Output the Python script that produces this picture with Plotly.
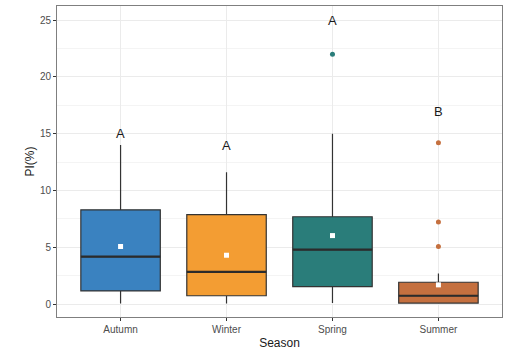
import plotly.graph_objects as go

seasons = ["Autumn", "Winter", "Spring", "Summer"]
colors = ["#3A82C0", "#F39D33", "#2A7D7A", "#C5703F"]
q1 = [1.16, 0.73, 1.54, 0.09]
median = [4.17, 2.83, 4.80, 0.73]
q3 = [8.30, 7.87, 7.69, 1.92]
lower = [0.05, 0.05, 0.09, 0.05]
upper = [14.0, 11.6, 15.0, 2.7]
means = [5.07, 4.30, 6.03, 1.69]
outliers = [[], [], [22.0], [14.2, 7.23, 5.07]]
letters = ["A", "A", "A", "B"]
letter_y = [15.0, 14.0, 25.0, 17.0]

BOX_W = 0.75
xs = list(range(len(seasons)))

fig = go.Figure()
for i, s in enumerate(seasons):
    fig.add_trace(go.Box(
        x=[xs[i]], q1=[q1[i]], median=[median[i]], q3=[q3[i]],
        lowerfence=[lower[i]], upperfence=[upper[i]],
        width=BOX_W, fillcolor=colors[i],
        line=dict(color="#333333", width=1.2),
        whiskerwidth=0, boxpoints=False, showlegend=False, hoverinfo="skip"))
    # thicker median line
    fig.add_trace(go.Scatter(
        x=[xs[i] - BOX_W / 2, xs[i] + BOX_W / 2], y=[median[i], median[i]],
        mode="lines", line=dict(color="#2b2b2b", width=2.2),
        showlegend=False, hoverinfo="skip"))
    if outliers[i]:
        fig.add_trace(go.Scatter(
            x=[xs[i]] * len(outliers[i]), y=outliers[i], mode="markers",
            marker=dict(color=colors[i], size=5),
            showlegend=False, hoverinfo="skip"))
    fig.add_trace(go.Scatter(
        x=[xs[i]], y=[means[i]], mode="markers",
        marker=dict(color="white", size=5, symbol="square"),
        showlegend=False, hoverinfo="skip"))
    fig.add_annotation(x=xs[i], y=letter_y[i], text=letters[i], showarrow=False,
                       font=dict(size=13, color="#1a1a1a"), yanchor="middle")

fig.update_layout(
    width=528, height=352,
    margin=dict(l=57, r=26, t=5, b=34),
    paper_bgcolor="white", plot_bgcolor="white",
    font=dict(family="Liberation Sans, Arial, sans-serif", color="#4d4d4d", size=10),
)
fig.update_xaxes(
    range=[-0.6, 3.6], tickvals=xs, ticktext=seasons,
    showgrid=True, gridcolor="#ebebeb", gridwidth=1,
    ticks="outside", ticklen=3, tickcolor="#333333",
    showline=True, linecolor="#7f7f7f", mirror=True, zeroline=False,
    tickfont=dict(size=10, color="#4d4d4d"),
    title=dict(text="Season", font=dict(size=12, color="#1a1a1a"), standoff=4),
)
fig.update_yaxes(
    range=[-1.14, 26.25], tickvals=[0, 5, 10, 15, 20, 25],
    showgrid=True, gridcolor="#ebebeb", gridwidth=1,
    minor=dict(tickvals=[2.5, 7.5, 12.5, 17.5, 22.5], showgrid=True, gridcolor="#f4f4f4", gridwidth=0.8),
    ticks="outside", ticklen=3, tickcolor="#333333",
    showline=True, linecolor="#7f7f7f", mirror=True, zeroline=False,
    tickfont=dict(size=10, color="#4d4d4d"),
    title=dict(text="PI(%)", font=dict(size=12, color="#1a1a1a"), standoff=2),
)
fig.write_html("out.html", config={"displayModeBar": False},
               post_script="document.body.style.margin='0';document.body.style.overflow='hidden';")
